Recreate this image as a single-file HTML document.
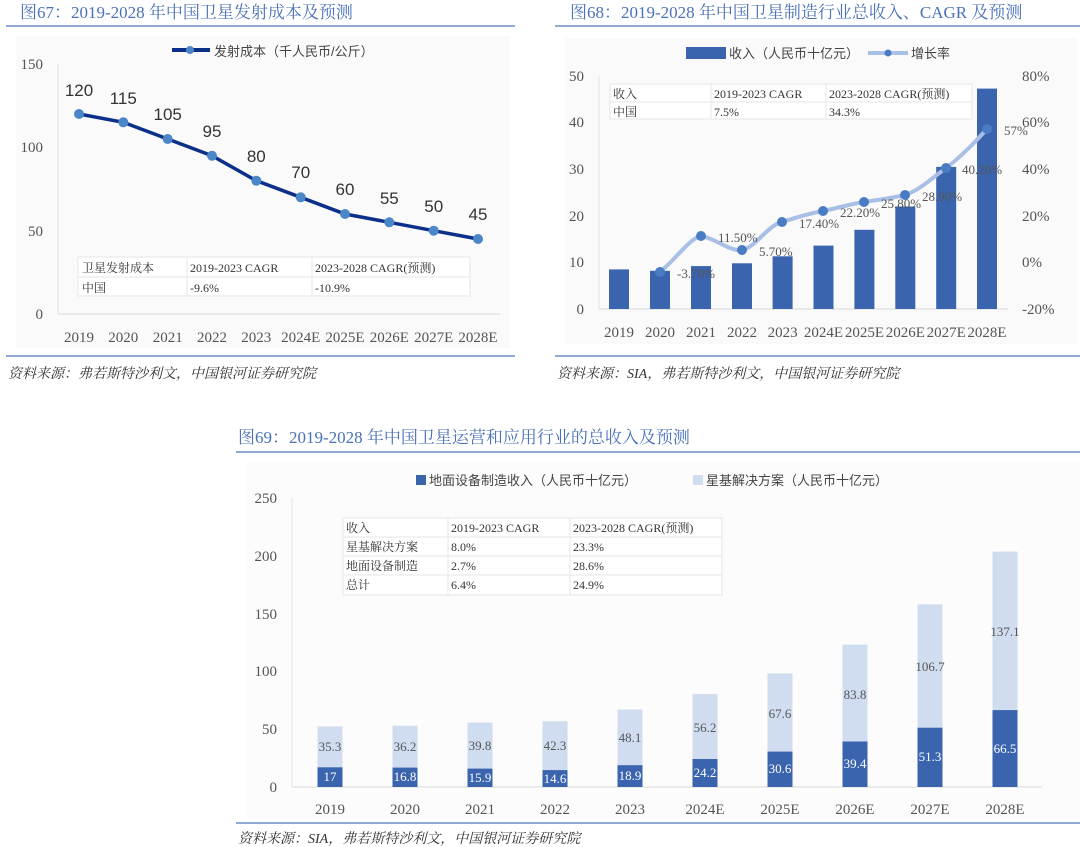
<!DOCTYPE html>
<html><head><meta charset="utf-8"><style>
body{margin:0;background:#fff;}
svg{display:block;font-family:"Liberation Serif","Noto Serif CJK SC",serif;}
.t{font-family:"Liberation Serif","Noto Serif CJK SC",serif;fill:#4a72b8;font-size:17px;}
.s{font-family:"Liberation Serif","Noto Serif CJK SC",serif;font-style:italic;fill:#333;font-size:14px;}
.ax{fill:#555;font-size:15px;}
.tb{fill:#333;font-size:12px;font-family:"Liberation Serif","Noto Serif CJK SC",serif;}
.lg{fill:#444;font-size:13px;font-family:"Liberation Sans","Noto Sans CJK SC",sans-serif;}
</style></head><body>
<svg width="1080" height="847" viewBox="0 0 1080 847" xmlns="http://www.w3.org/2000/svg">
<!-- Chart 67 -->
<text x="20" y="18" class="t">图67：2019-2028 年中国卫星发射成本及预测</text>
<line x1="6" y1="26" x2="515" y2="26" stroke="#6d8cc7" stroke-width="1.5"/>
<rect x="16" y="36" width="494" height="312" fill="#fafafa"/>
<line x1="58" y1="64" x2="58" y2="314" stroke="#e3e3e3"/>
<line x1="58" y1="314" x2="500" y2="314" stroke="#e3e3e3" stroke-width="1.5"/>
<g class="ax" text-anchor="end">
<text x="43" y="69">150</text><text x="43" y="152">100</text><text x="43" y="236">50</text><text x="43" y="319">0</text>
</g>
<line x1="172" y1="50" x2="210" y2="50" stroke="#0c2f8a" stroke-width="4"/><circle cx="190" cy="50" r="4" fill="#4a86c8"/>
<text x="214" y="56" class="lg" font-size="14">发射成本（千人民币/公斤）</text>
<polyline fill="none" stroke="#0c2f8a" stroke-width="3.5" points="79,114 123.3,122.3 167.7,139 212,155.7 256.3,180.7 300.7,197.3 345,214 389.3,222.3 433.7,230.7 478,239"/>
<g fill="#4a86c8">
<circle cx="79" cy="114" r="5"/><circle cx="123.3" cy="122.3" r="5"/><circle cx="167.7" cy="139" r="5"/><circle cx="212" cy="155.7" r="5"/><circle cx="256.3" cy="180.7" r="5"/><circle cx="300.7" cy="197.3" r="5"/><circle cx="345" cy="214" r="5"/><circle cx="389.3" cy="222.3" r="5"/><circle cx="433.7" cy="230.7" r="5"/><circle cx="478" cy="239" r="5"/>
</g>
<g fill="#333" font-size="17" text-anchor="middle" font-family="Liberation Sans,sans-serif">
<text x="79" y="96">120</text><text x="123.3" y="104">115</text><text x="167.7" y="120">105</text><text x="212" y="137">95</text><text x="256.3" y="162">80</text><text x="300.7" y="178">70</text><text x="345" y="195">60</text><text x="389.3" y="204">55</text><text x="433.7" y="212">50</text><text x="478" y="220">45</text>
</g>
<rect x="78" y="257" width="392" height="39" fill="#fff" stroke="#e6e6e6"/>
<line x1="78" y1="277" x2="470" y2="277" stroke="#e6e6e6"/>
<line x1="187" y1="257" x2="187" y2="296" stroke="#e6e6e6"/><line x1="312" y1="257" x2="312" y2="296" stroke="#e6e6e6"/>
<g class="tb"><text x="82" y="272">卫星发射成本</text><text x="190" y="272">2019-2023 CAGR</text><text x="315" y="272">2023-2028 CAGR(预测)</text>
<text x="82" y="292">中国</text><text x="190" y="292">-9.6%</text><text x="315" y="292">-10.9%</text></g>
<g class="ax" text-anchor="middle">
<text x="79" y="342">2019</text><text x="123.3" y="342">2020</text><text x="167.7" y="342">2021</text><text x="212" y="342">2022</text><text x="256.3" y="342">2023</text><text x="300.7" y="342">2024E</text><text x="345" y="342">2025E</text><text x="389.3" y="342">2026E</text><text x="433.7" y="342">2027E</text><text x="478" y="342">2028E</text>
</g>
<line x1="6" y1="356" x2="515" y2="356" stroke="#6d8cc7" stroke-width="1.5"/>
<text x="8" y="378" class="s">资料来源：弗若斯特沙利文，中国银河证券研究院</text>

<!-- Chart 68 -->
<text x="570" y="18" class="t">图68：2019-2028 年中国卫星制造行业总收入、CAGR 及预测</text>
<line x1="555" y1="26" x2="1080" y2="26" stroke="#6d8cc7" stroke-width="1.5"/>
<rect x="565" y="38" width="512" height="306" fill="#fafafa"/>
<line x1="599" y1="76" x2="599" y2="309" stroke="#e3e3e3"/>
<line x1="599" y1="309" x2="1008" y2="309" stroke="#e3e3e3" stroke-width="1.5"/>
<g class="ax" text-anchor="end">
<text x="584" y="81">50</text><text x="584" y="127">40</text><text x="584" y="174">30</text><text x="584" y="221">20</text><text x="584" y="267">10</text><text x="584" y="314">0</text>
</g>
<g class="ax"><text x="1022" y="81">80%</text><text x="1022" y="127">60%</text><text x="1022" y="174">40%</text><text x="1022" y="221">20%</text><text x="1022" y="267">0%</text><text x="1022" y="314">-20%</text></g>
<rect x="686" y="47" width="40" height="12" fill="#3a64ae"/><text x="729" y="58" class="lg">收入（人民币十亿元）</text>
<line x1="868" y1="53" x2="908" y2="53" stroke="#a9bfe6" stroke-width="4"/><circle cx="888" cy="53" r="3.5" fill="#4a7cc4"/><text x="911" y="58" class="lg">增长率</text>
<g fill="#3a64ae">
<rect x="609" y="269.4" width="20" height="39.6"/><rect x="650" y="270.8" width="20" height="38.2"/><rect x="691" y="266.1" width="20" height="42.9"/><rect x="732" y="263.3" width="20" height="45.7"/><rect x="772.6" y="256.3" width="20" height="52.7"/><rect x="813.5" y="245.6" width="20" height="63.4"/><rect x="854.4" y="229.8" width="20" height="79.2"/><rect x="895.3" y="206.5" width="20" height="102.5"/><rect x="936.2" y="166.9" width="20" height="142.1"/><rect x="977" y="88.6" width="20" height="220.4"/>
</g>
<rect x="610" y="84" width="362" height="35" fill="#fff" stroke="#e6e6e6"/>
<line x1="610" y1="102" x2="972" y2="102" stroke="#e6e6e6"/>
<line x1="711" y1="84" x2="711" y2="119" stroke="#e6e6e6"/><line x1="826" y1="84" x2="826" y2="119" stroke="#e6e6e6"/>
<g class="tb"><text x="613" y="98">收入</text><text x="714" y="98">2019-2023 CAGR</text><text x="829" y="98">2023-2028 CAGR(预测)</text>
<text x="613" y="116">中国</text><text x="714" y="116">7.5%</text><text x="829" y="116">34.3%</text></g>
<path fill="none" stroke="#a9bfe6" stroke-width="4" stroke-linejoin="round" d="M660,272 C675,260 690,238 701,236 C715,238 730,252 742,250 C755,248 768,225 782,222 C795,218 810,213 823,211 C838,208 850,204 864,202 C878,200 892,198 905,195 C920,190 932,178 946,168 C962,156 975,142 987,129"/>
<g fill="#4a7cc4">
<circle cx="660" cy="272" r="5"/><circle cx="701" cy="236" r="5"/><circle cx="742" cy="250" r="5"/><circle cx="782" cy="222" r="5"/><circle cx="823" cy="211" r="5"/><circle cx="864" cy="202" r="5"/><circle cx="905" cy="195" r="5"/><circle cx="946" cy="168" r="5"/><circle cx="987" cy="129" r="5"/>
</g>
<g fill="#555" font-size="13">
<text x="677" y="278">-3.70%</text><text x="718" y="242">11.50%</text><text x="759" y="256">5.70%</text><text x="799" y="228">17.40%</text><text x="840" y="217">22.20%</text><text x="881" y="208">25.80%</text><text x="922" y="201">28.90%</text><text x="962" y="174">40.20%</text><text x="1004" y="135">57%</text>
</g>
<g class="ax" text-anchor="middle">
<text x="619" y="337">2019</text><text x="660" y="337">2020</text><text x="701" y="337">2021</text><text x="742" y="337">2022</text><text x="782.6" y="337">2023</text><text x="823.5" y="337">2024E</text><text x="864.4" y="337">2025E</text><text x="905.3" y="337">2026E</text><text x="946.2" y="337">2027E</text><text x="987" y="337">2028E</text>
</g>
<line x1="555" y1="356" x2="1080" y2="356" stroke="#6d8cc7" stroke-width="1.5"/>
<text x="557" y="378" class="s">资料来源：SIA，弗若斯特沙利文，中国银河证券研究院</text>

<!-- Chart 69 -->
<text x="238" y="443" class="t">图69：2019-2028 年中国卫星运营和应用行业的总收入及预测</text>
<line x1="236" y1="452" x2="1080" y2="452" stroke="#6d8cc7" stroke-width="1.5"/>
<rect x="246" y="462" width="834" height="356" fill="#fcfcfc"/>
<line x1="292" y1="498" x2="292" y2="787" stroke="#e3e3e3"/>
<line x1="292" y1="787" x2="1042" y2="787" stroke="#e3e3e3" stroke-width="1.5"/>
<g class="ax" text-anchor="end">
<text x="277" y="503">250</text><text x="277" y="561">200</text><text x="277" y="619">150</text><text x="277" y="676">100</text><text x="277" y="734">50</text><text x="277" y="792">0</text>
</g>
<rect x="416" y="475" width="10" height="10" fill="#3a64ae"/><text x="429" y="485" class="lg">地面设备制造收入（人民币十亿元）</text>
<rect x="693" y="475" width="10" height="10" fill="#d0ddf0"/><text x="706" y="485" class="lg">星基解决方案（人民币十亿元）</text>
<g fill="#d0ddf0">
<rect x="317.5" y="726.5" width="25" height="60.5"/><rect x="392.5" y="725.7" width="25" height="61.3"/><rect x="467.5" y="722.6" width="25" height="64.4"/><rect x="542.5" y="721.2" width="25" height="65.8"/><rect x="617.5" y="709.5" width="25" height="77.5"/><rect x="692.5" y="694.1" width="25" height="92.9"/><rect x="767.5" y="673.5" width="25" height="113.5"/><rect x="842.5" y="644.6" width="25" height="142.4"/><rect x="917.5" y="604.4" width="25" height="182.6"/><rect x="992.5" y="551.6" width="25" height="235.4"/>
</g>
<g fill="#3a64ae">
<rect x="317.5" y="767.3" width="25" height="19.7"/><rect x="392.5" y="767.6" width="25" height="19.4"/><rect x="467.5" y="768.6" width="25" height="18.4"/><rect x="542.5" y="770.1" width="25" height="16.9"/><rect x="617.5" y="765.2" width="25" height="21.8"/><rect x="692.5" y="759" width="25" height="28"/><rect x="767.5" y="751.6" width="25" height="35.4"/><rect x="842.5" y="741.5" width="25" height="45.5"/><rect x="917.5" y="727.7" width="25" height="59.3"/><rect x="992.5" y="710.1" width="25" height="76.9"/>
</g>
<g fill="#555" font-size="13" text-anchor="middle">
<text x="330" y="751">35.3</text><text x="405" y="751">36.2</text><text x="480" y="750">39.8</text><text x="555" y="750">42.3</text><text x="630" y="742">48.1</text><text x="705" y="732">56.2</text><text x="780" y="718">67.6</text><text x="855" y="699">83.8</text><text x="930" y="671">106.7</text><text x="1005" y="636">137.1</text>
</g>
<g fill="#fff" font-size="13" text-anchor="middle">
<text x="330" y="781">17</text><text x="405" y="781">16.8</text><text x="480" y="782">15.9</text><text x="555" y="783">14.6</text><text x="630" y="780">18.9</text><text x="705" y="777">24.2</text><text x="780" y="773">30.6</text><text x="855" y="768">39.4</text><text x="930" y="761">51.3</text><text x="1005" y="753">66.5</text>
</g>
<rect x="343" y="518" width="379" height="77" fill="#fff" stroke="#e6e6e6"/>
<line x1="343" y1="537" x2="722" y2="537" stroke="#e6e6e6"/><line x1="343" y1="556" x2="722" y2="556" stroke="#e6e6e6"/><line x1="343" y1="575" x2="722" y2="575" stroke="#e6e6e6"/>
<line x1="448" y1="518" x2="448" y2="595" stroke="#e6e6e6"/><line x1="570" y1="518" x2="570" y2="595" stroke="#e6e6e6"/>
<g class="tb"><text x="346" y="532">收入</text><text x="451" y="532">2019-2023 CAGR</text><text x="573" y="532">2023-2028 CAGR(预测)</text>
<text x="346" y="551">星基解决方案</text><text x="451" y="551">8.0%</text><text x="573" y="551">23.3%</text>
<text x="346" y="570">地面设备制造</text><text x="451" y="570">2.7%</text><text x="573" y="570">28.6%</text>
<text x="346" y="589">总计</text><text x="451" y="589">6.4%</text><text x="573" y="589">24.9%</text></g>
<g class="ax" text-anchor="middle">
<text x="330" y="814">2019</text><text x="405" y="814">2020</text><text x="480" y="814">2021</text><text x="555" y="814">2022</text><text x="630" y="814">2023</text><text x="705" y="814">2024E</text><text x="780" y="814">2025E</text><text x="855" y="814">2026E</text><text x="930" y="814">2027E</text><text x="1005" y="814">2028E</text>
</g>
<line x1="236" y1="823" x2="1080" y2="823" stroke="#6d8cc7" stroke-width="1.5"/>
<text x="238" y="843" class="s">资料来源：SIA，弗若斯特沙利文，中国银河证券研究院</text>
</svg>
</body></html>
